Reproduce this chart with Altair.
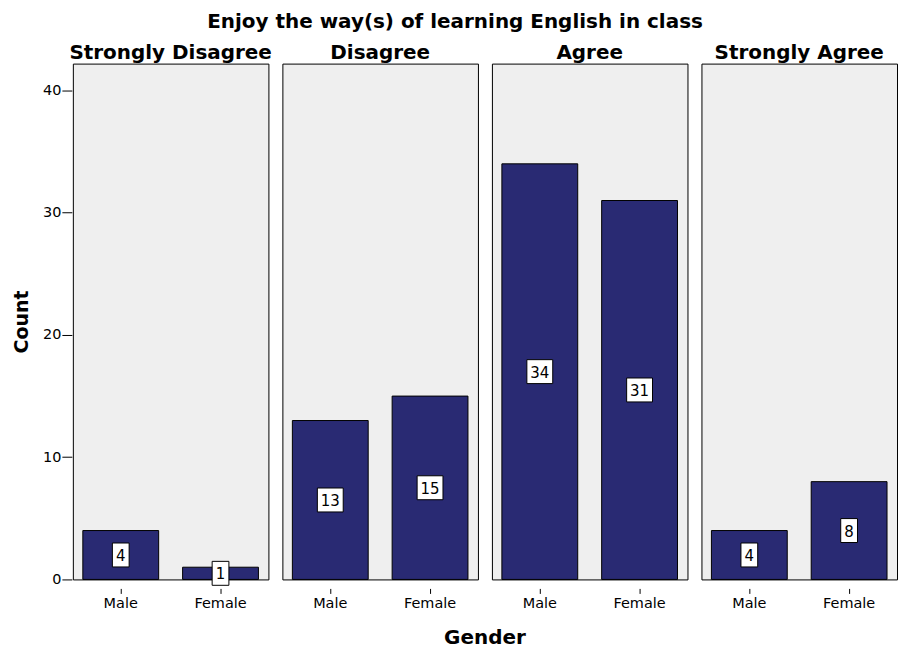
import altair as alt
import pandas as pd

responses = ["Strongly Disagree", "Disagree", "Agree", "Strongly Agree"]
genders = ["Male", "Female"]
male_counts = [4, 13, 34, 4]
female_counts = [1, 15, 31, 8]

rows = []
for r, m, f in zip(responses, male_counts, female_counts):
    rows.append({"Response": r, "Gender": "Male", "Count": m})
    rows.append({"Response": r, "Gender": "Female", "Count": f})
df = pd.DataFrame(rows)

FONT = "DejaVu Sans"
BAR = "#292A73"

box1 = "M-0.7,-1L0.7,-1L0.7,1L-0.7,1Z"
box2 = "M-1.08,-1L1.08,-1L1.08,1L-1.08,1Z"

x = alt.X(
    "Gender:N", sort=genders, title=None,
    scale=alt.Scale(paddingInner=0.24, paddingOuter=0.1),
    axis=alt.Axis(labelAngle=0, domain=False, tickSize=5, tickColor="black",
                  tickWidth=1, labelFontSize=14.5, labelFont=FONT,
                  labelColor="black", labelPadding=3),
)
yscale = alt.Scale(domain=[0, 42.2], nice=False)

bars = alt.Chart().mark_bar(color=BAR, stroke="black", strokeWidth=1).encode(
    x=x,
    y=alt.Y("Count:Q", scale=yscale,
            axis=alt.Axis(values=[0, 10, 20, 30, 40], grid=False, domain=False,
                          tickSize=10, tickColor="black", labelFontSize=14.5,
                          labelFont=FONT, labelColor="black", labelPadding=1,
                          title="Count", titleFontSize=19, titleFont=FONT,
                          titleFontWeight="bold", titleColor="black",
                          titlePadding=11)),
)

boxes = alt.Chart().transform_calculate(mid="datum.Count / 2").mark_point(
    fill="white", stroke="black", strokeWidth=1, fillOpacity=1, opacity=1,
    size=576, filled=False,
).encode(
    x=x,
    y=alt.Y("mid:Q", scale=yscale),
    shape=alt.condition("datum.Count >= 10", alt.value(box2), alt.value(box1)),
)

labels = alt.Chart().transform_calculate(mid="datum.Count / 2").mark_text(
    font=FONT, fontSize=15, color="black", baseline="middle", align="center", dy=1,
).encode(
    x=x,
    y=alt.Y("mid:Q", scale=yscale),
    text="Count:Q",
)

chart = alt.layer(bars, boxes, labels, data=df).properties(
    width=196, height=517
).facet(
    column=alt.Column(
        "Response:N", sort=responses, title="Gender",
        header=alt.Header(labelOrient="top", titleOrient="bottom",
                          labelFontSize=20, labelFontWeight="bold", labelFont=FONT,
                          labelColor="black", labelPadding=0,
                          titleFontSize=20, titleFontWeight="bold", titleFont=FONT,
                          titleColor="black", titlePadding=8),
    ),
    spacing=12,
).properties(
    padding={"left": 4, "right": 0, "top": 3, "bottom": 0},
    title=alt.TitleParams("Enjoy the way(s) of learning English in class",
                          font=FONT, fontSize=20, fontWeight="bold",
                          color="black", anchor="middle", offset=11),
).configure_view(
    stroke="black", strokeWidth=1, fill="#EFEFEF"
)

chart.save("out.html", embed_options={"renderer": "svg", "actions": False})
